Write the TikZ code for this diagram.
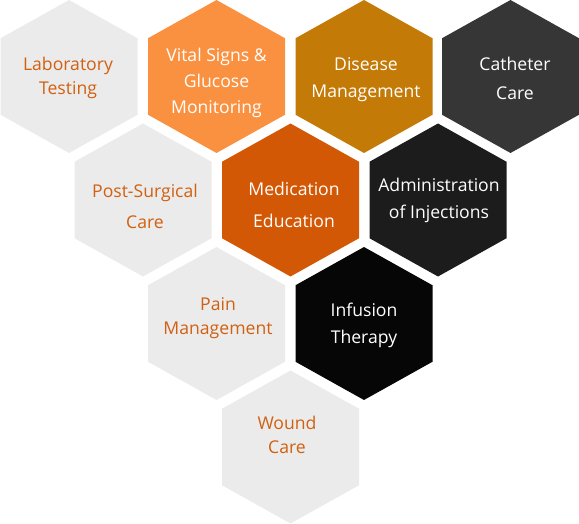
\documentclass[tikz,border=0pt]{standalone}
\usepackage{fontspec}
\setmainfont{Open Sans}
\definecolor{cellGray}{RGB}{235,235,235}
\definecolor{labelOrange}{RGB}{209,96,16}
\definecolor{vitalOrange}{RGB}{250,145,65}
\definecolor{diseaseGold}{RGB}{196,122,6}
\definecolor{catheterGray}{RGB}{54,54,54}
\definecolor{medicationOrange}{RGB}{211,88,6}
\definecolor{injectionBlack}{RGB}{28,28,28}
\definecolor{infusionBlack}{RGB}{6,6,6}

\begin{document}
\begin{tikzpicture}[x=1pt, y=-1pt,
    hexcell/.style={insert path={++(0,-76.5) -- ++(68.5,38.25) -- ++(0,76.5) -- ++(-68.5,38.25) -- ++(-68.5,-38.25) -- ++(0,-76.5) -- cycle}},
    hexlabel/.style={align=center, inner sep=0pt, font=\fontsize{17.6}{24}\selectfont},
    graylabel/.style={hexlabel, labelOrange},
    whitelabel/.style={hexlabel, white}]
    \useasboundingbox (0,0) rectangle (579,524);

    % Fila superior
    \fill[cellGray] (69,76.5) [hexcell];
    \fill[vitalOrange] (216.5,76.5) [hexcell];
    \fill[diseaseGold] (364,76.5) [hexcell];
    \fill[catheterGray] (510.5,76.5) [hexcell];
    \node[graylabel] (lab) at (68,78) {Laboratory\\Testing};
    \node[whitelabel] (vital) at (216.5,83) {Vital Signs \&\\[2pt]Glucose\\[2pt]Monitoring};
    \node[whitelabel] (disease) at (366,79.5) {Disease\\[3pt]Management};
    \node[whitelabel] (catheter) at (515,78) {Catheter\\[5pt]Care};

    % Segunda fila
    \fill[cellGray] (143,200) [hexcell];
    \fill[medicationOrange] (290.5,200) [hexcell];
    \fill[injectionBlack] (438,200) [hexcell];
    \node[graylabel] (postsurgical) at (145,206) {Post-Surgical\\[7pt]Care};
    \node[whitelabel] (medication) at (294,204.5) {Medication\\[8pt]Education};
    \node[whitelabel] (injections) at (439,200) {Administration\\[3pt]of Injections};

    % Tercera fila
    \fill[cellGray] (216.5,323.5) [hexcell];
    \fill[infusionBlack] (364,323.5) [hexcell];
    \node[graylabel] (pain) at (218,318) {Pain\\Management};
    \node[whitelabel] (infusion) at (364,325.5) {Infusion\\[3pt]Therapy};

    % Punta inferior
    \fill[cellGray] (290.5,447) [hexcell];
    \node[graylabel] (wound) at (287,435) {Wound\\Care};
\end{tikzpicture}
\end{document}
